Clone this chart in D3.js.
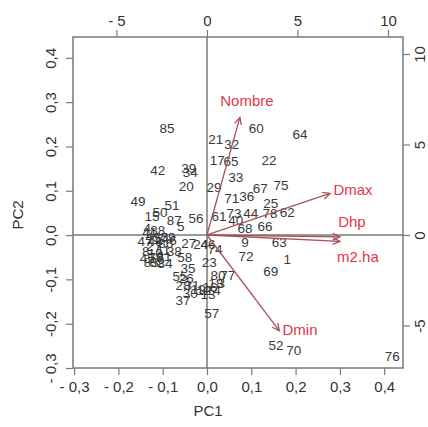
<!DOCTYPE html>
<html>
<head>
<meta charset="utf-8">
<script src="https://cdn.jsdelivr.net/npm/d3@7"></script>
<style>
  body { margin: 0; background: #fff; }
  text { font-family: "Liberation Sans", Arial, sans-serif; }
</style>
</head>
<body>
<svg width="428" height="427"></svg>
<script>
// observation scores (PC1, PC2)
const obsLabels = ["85","21","32","60","64","17","65","22","42","39","34","33","20","29","67","75","71","36","25","49",
  "51","50","15","87","5","56","61","73","40","44","78","62","68","66","9","63","72","1","69","46",
  "74","27","24","38","58","23","82","35","80","77","3","55","26","28","31","19","12","16","18","30",
  "37","13","14","57","52","70","76","4","88","41","43","54","59","6","47","86","2","7","11","8",
  "10","45","79","81","83","84","48"];
const obsPC1 = [-0.090,0.020,0.056,0.111,0.210,0.023,0.054,0.140,-0.111,-0.041,-0.038,0.065,-0.047,0.016,0.120,0.167,0.056,0.090,0.144,-0.156,
  -0.079,-0.106,-0.124,-0.074,-0.059,-0.025,0.027,0.061,0.065,0.099,0.142,0.181,0.086,0.131,0.086,0.163,0.088,0.181,0.144,0.002,
  0.018,-0.041,-0.014,-0.074,-0.050,0.005,-0.113,-0.043,0.025,0.047,0.032,-0.061,-0.047,-0.054,-0.034,-0.020,-0.007,0.007,0.020,-0.038,
  -0.054,0.002,0.014,0.011,0.156,0.196,0.418,-0.135,-0.111,-0.129,-0.122,-0.102,-0.088,-0.077,-0.140,-0.093,-0.129,-0.111,-0.099,-0.138,
  -0.117,-0.135,-0.115,-0.097,-0.126,-0.095,-0.117];
const obsPC2 = [0.242,0.217,0.205,0.242,0.228,0.169,0.167,0.169,0.147,0.151,0.142,0.131,0.111,0.108,0.106,0.113,0.084,0.088,0.072,0.077,
  0.068,0.052,0.043,0.034,0.020,0.038,0.043,0.050,0.034,0.050,0.050,0.052,0.016,0.020,-0.016,-0.016,-0.047,-0.054,-0.081,-0.020,
  -0.032,-0.018,-0.020,-0.036,-0.050,-0.061,-0.061,-0.074,-0.090,-0.090,-0.108,-0.093,-0.097,-0.113,-0.113,-0.122,-0.124,-0.117,-0.108,-0.131,
  -0.147,-0.133,-0.124,-0.176,-0.248,-0.260,-0.273,0.016,0.011,0.007,-0.005,-0.007,-0.005,-0.011,-0.014,-0.018,-0.025,-0.027,-0.034,-0.036,
  -0.041,-0.052,-0.050,-0.047,-0.061,-0.063,-0.014];

// variable loadings (top / right scale)
const varNames = ["Nombre","Dmax","Dhp","m2.ha","Dmin"];
const varX = [1.82, 6.8, 7.35, 7.35, 4.0];
const varY = [6.5, 2.3, -0.1, -0.35, -5.3];
const varLabelX = [2.21, 8.07, 8.01, 8.34, 5.14];
const varLabelY = [7.40, 2.49, 0.72, -1.22, -5.25];

const bottomTicks = [-0.3,-0.2,-0.1,0,0.1,0.2,0.3,0.4];
const leftTicks = [-0.3,-0.2,-0.1,0,0.1,0.2,0.3,0.4];
const topTicks = [-5,0,5,10];
const rightTicks = [-5,0,5,10];

const svg = d3.select("svg");
const L = 73, R = 403, T = 37, B = 368;

const x = d3.scaleLinear().domain([-0.3025, 0.4424]).range([L, R]);
const y = d3.scaleLinear().domain([-0.300, 0.447]).range([B, T]);
const x2 = d3.scaleLinear().domain([-7.40, 10.83]).range([L, R]);
const y2 = d3.scaleLinear().domain([-7.35, 10.94]).range([B, T]);

const grey = "#7a7a7a";
const fmtB = d => d < 0 ? "- " + d3.format(".1f")(-d).replace(".", ",") : d3.format(".1f")(d).replace(".", ",");
const fmtL = d => d <= -0.25 ? "- " + d3.format(".1f")(-d).replace(".", ",") : d3.format(".1f")(d).replace(".", ",").replace("−", "-");

function styleAxis(g) {
  g.select(".domain").remove();
  g.selectAll(".tick line").attr("stroke", grey).attr("stroke-width", 1.2);
  g.selectAll(".tick text").attr("fill", "#333").style("font-size", "15px");
}

svg.append("g").attr("transform", `translate(0,${B})`)
  .call(d3.axisBottom(x).tickValues(bottomTicks).tickSize(7).tickPadding(6).tickFormat(fmtB))
  .call(styleAxis);

svg.append("g").attr("transform", `translate(0,${T})`)
  .call(d3.axisTop(x2).tickValues(topTicks).tickSize(7).tickPadding(4).tickFormat(d => d < 0 ? "- " + (-d) : d))
  .call(styleAxis);

const gl = svg.append("g").attr("transform", `translate(${L},0)`)
  .call(d3.axisLeft(y).tickValues(leftTicks).tickSize(7).tickFormat(fmtL))
  .call(styleAxis);
gl.selectAll(".tick text").attr("transform", "rotate(-90)").attr("x", 0).attr("y", -17)
  .attr("text-anchor", "middle").attr("dy", "0");

const gr = svg.append("g").attr("transform", `translate(${R},0)`)
  .call(d3.axisRight(y2).tickValues(rightTicks).tickSize(7).tickFormat(d => d))
  .call(styleAxis);
gr.selectAll(".tick text").attr("transform", "rotate(-90)").attr("x", 0).attr("y", 22)
  .attr("text-anchor", "middle").attr("dy", "0");

// frame and zero lines
svg.append("rect").attr("x", L).attr("y", T).attr("width", R - L).attr("height", B - T)
  .attr("fill", "none").attr("stroke", grey).attr("stroke-width", 1.5);
svg.append("line").attr("x1", L).attr("x2", R).attr("y1", y(0)).attr("y2", y(0))
  .attr("stroke", grey).attr("stroke-width", 1.5);
svg.append("line").attr("x1", x(0)).attr("x2", x(0)).attr("y1", T).attr("y2", B)
  .attr("stroke", grey).attr("stroke-width", 1.5);

// observations
svg.append("g").selectAll("text").data(obsLabels).join("text")
  .attr("x", (d, i) => x(obsPC1[i]))
  .attr("y", (d, i) => y(obsPC2[i]))
  .attr("dy", "0.35em")
  .attr("text-anchor", "middle")
  .attr("fill", "#3a3a3a")
  .style("font-size", "13.5px")
  .text(d => d);

// variable arrows
const arrowCol = "#a9505a";
const ox = x2(0), oy = y2(0);
const ag = svg.append("g");
varNames.forEach((name, i) => {
  const tx = x2(varX[i]), ty = y2(varY[i]);
  const ang = Math.atan2(ty - oy, tx - ox);
  const len = 8, spread = Math.PI / 7;
  ag.append("line").attr("x1", ox).attr("y1", oy).attr("x2", tx).attr("y2", ty)
    .attr("stroke", arrowCol).attr("stroke-width", 1.3);
  ag.append("path")
    .attr("d", `M${tx - len * Math.cos(ang - spread)},${ty - len * Math.sin(ang - spread)}L${tx},${ty}L${tx - len * Math.cos(ang + spread)},${ty - len * Math.sin(ang + spread)}`)
    .attr("fill", "none").attr("stroke", arrowCol).attr("stroke-width", 1.3);
  ag.append("text")
    .attr("x", x2(varLabelX[i])).attr("y", y2(varLabelY[i]))
    .attr("dy", "0.35em").attr("text-anchor", "middle")
    .attr("fill", "#e4354d").style("font-size", "15px")
    .text(name);
});

// axis titles
svg.append("text").attr("x", 208).attr("y", 416).attr("text-anchor", "middle")
  .attr("fill", "#333").style("font-size", "15px").text("PC1");
svg.append("text").attr("transform", "translate(23,215) rotate(-90)").attr("text-anchor", "middle")
  .attr("fill", "#333").style("font-size", "15px").text("PC2");
</script>
</body>
</html>
